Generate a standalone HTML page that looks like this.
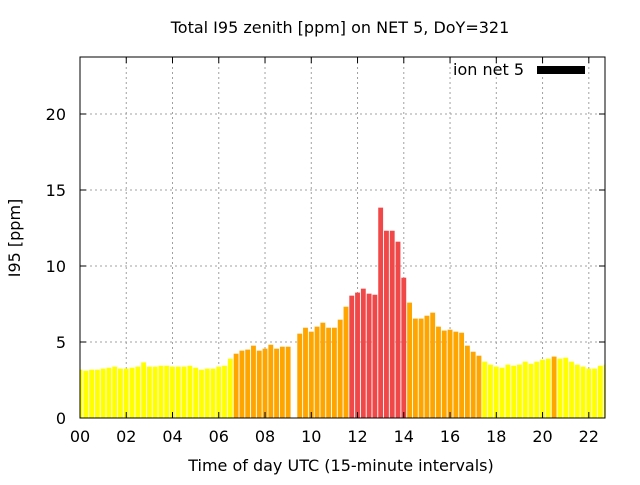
<!DOCTYPE html>
<html><head><meta charset="utf-8"><style>
body{margin:0;background:#fff;}
svg text{font-family:"DejaVu Sans","Liberation Sans",sans-serif;}
</style></head><body>
<svg id="chart" width="640" height="480" xmlns="http://www.w3.org/2000/svg">
<text x="340" y="33" font-size="16" text-anchor="middle">Total I95 zenith [ppm] on NET 5, DoY=321</text>
<g id="grid"></g>
<g id="bars"></g>
<g id="axes"></g>
<text transform="translate(20,238) rotate(-90)" font-size="16" text-anchor="middle">I95 [ppm]</text>
<text x="341" y="471" font-size="16" text-anchor="middle">Time of day UTC (15-minute intervals)</text>
<g>
<text x="524" y="75" font-size="16" text-anchor="end">ion net 5</text>
<rect x="537" y="66" width="48" height="8" fill="#000"/>
</g>
</svg>
<script>
const hours = [0,0.25,0.5,0.75,1,1.25,1.5,1.75,2,2.25,2.5,2.75,3,3.25,3.5,3.75,4,4.25,4.5,4.75,5,5.25,5.5,5.75,6,6.25,6.5,6.75,7,7.25,7.5,7.75,8,8.25,8.5,8.75,9,9.5,9.75,10,10.25,10.5,10.75,11,11.25,11.5,11.75,12,12.25,12.5,12.75,13,13.25,13.5,13.75,14,14.25,14.5,14.75,15,15.25,15.5,15.75,16,16.25,16.5,16.75,17,17.25,17.5,17.75,18,18.25,18.5,18.75,19,19.25,19.5,19.75,20,20.25,20.5,20.75,21,21.25,21.5,21.75,22,22.25,22.5,22.75];
const values = [3.18,3.11,3.18,3.18,3.25,3.31,3.38,3.25,3.25,3.31,3.38,3.66,3.38,3.38,3.44,3.44,3.38,3.38,3.38,3.44,3.31,3.18,3.25,3.25,3.38,3.44,3.9,4.23,4.43,4.5,4.76,4.43,4.56,4.82,4.56,4.69,4.69,5.55,5.94,5.68,6.01,6.27,5.94,5.94,6.47,7.32,8.05,8.25,8.51,8.18,8.11,13.84,12.32,12.32,11.6,9.23,7.59,6.54,6.54,6.73,6.93,6.01,5.75,5.81,5.68,5.61,4.76,4.36,4.1,3.71,3.51,3.38,3.31,3.51,3.44,3.51,3.71,3.57,3.71,3.84,3.9,4.04,3.9,3.97,3.71,3.51,3.38,3.25,3.25,3.44,3.51];
const xTickValues = [0,2,4,6,8,10,12,14,16,18,20,22];
const xTickLabels = ["00","02","04","06","08","10","12","14","16","18","20","22"];
const yTickValues = [0,5,10,15,20];
const yTickLabels = ["0","5","10","15","20"];

const L=80,R=605,T=57,B=418,XMAX=22.7,YMAX=23.75;
const NS="http://www.w3.org/2000/svg";
function sx(v){return L+v/XMAX*(R-L);}
function sy(v){return B-v/YMAX*(B-T);}
function mk(tag,attrs,parent){const e=document.createElementNS(NS,tag);for(const k in attrs)e.setAttribute(k,attrs[k]);parent.appendChild(e);return e;}
const grid=document.getElementById('grid'),bars=document.getElementById('bars'),axes=document.getElementById('axes');
xTickValues.forEach((v,i)=>{
  if(v>0){const g=mk('line',{x1:sx(v),x2:sx(v),y1:T,y2:B,stroke:'#a0a0a0','stroke-dasharray':'2,3','stroke-width':1},grid);
  
  }
  const t1=mk('line',{x1:sx(v),x2:sx(v),y1:B,y2:B-6,stroke:'#000'},axes);
  
  
  const t2=mk('line',{x1:sx(v),x2:sx(v),y1:T,y2:T+6,stroke:'#000'},axes);
  
  
  const tx=mk('text',{x:sx(v),y:B+24,'font-size':16,'text-anchor':'middle'},axes);
  tx.textContent=xTickLabels[i];
  
  
});
yTickValues.forEach((v,i)=>{
  if(v>0){const g=mk('line',{x1:L,x2:R,y1:sy(v),y2:sy(v),stroke:'#a0a0a0','stroke-dasharray':'2,3','stroke-width':1},grid);
  
  }
  const t1=mk('line',{x1:L,x2:L+6,y1:sy(v),y2:sy(v),stroke:'#000'},axes);
  
  
  const t2=mk('line',{x1:R,x2:R-6,y1:sy(v),y2:sy(v),stroke:'#000'},axes);
  
  
  const tx=mk('text',{x:L-14,y:sy(v)+6,'font-size':16,'text-anchor':'end'},axes);
  tx.textContent=yTickLabels[i];
  
  
});
const bw=0.21;
hours.forEach((h,i)=>{
  const v=values[i];
  let x1=Math.max(L,sx(h-bw/2)),x2=Math.min(R,sx(h+bw/2));
  if(x2<=x1)return;
  const col=v>=7.8?'#f04848':(v>=4?'#ffa500':'#ffff00');
  const r=mk('rect',{x:x1,y:sy(v),width:x2-x1,height:B-sy(v),fill:col},bars);
  
  
});
const fr=mk('rect',{x:L,y:T,width:R-L,height:B-T,fill:'none',stroke:'#000','stroke-width':1},axes);


</script>
</body></html>
